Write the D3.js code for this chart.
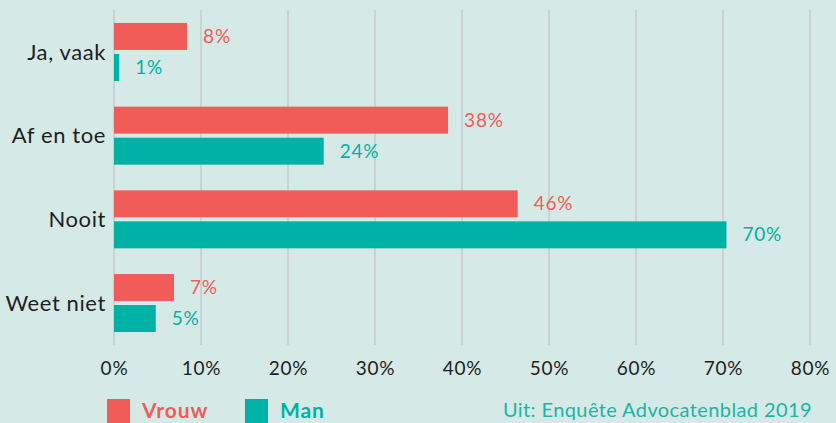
<!DOCTYPE html>
<html>
<head>
<meta charset="utf-8">
<script src="https://cdn.jsdelivr.net/npm/d3@7"></script>
<style>
  body { margin: 0; background: #d5eae6; }
  svg { display: block; font-family: Lato, "Open Sans", sans-serif; }
</style>
</head>
<body>
<div id="chart"></div>
<script>
// answers per category
const categories = ["Ja, vaak", "Af en toe", "Nooit", "Weet niet"];
const series = ["Vrouw", "Man"];
const vrouw = [8.4, 38.4, 46.4, 6.9];
const man = [0.6, 24.1, 70.4, 4.8];
const ticks = [0, 10, 20, 30, 40, 50, 60, 70, 80];
const source = "Uit: Enquête Advocatenblad 2019";

const colors = { Vrouw: "#f15c59", Man: "#00b2a5" };
const width = 836, height = 423;

const data = categories.map((c, i) => ({ cat: c, Vrouw: vrouw[i], Man: man[i] }));

const svg = d3.select("#chart").append("svg")
  .attr("width", width)
  .attr("height", height);

svg.append("rect").attr("width", width).attr("height", height).attr("fill", "#d5eae6");

const x = d3.scaleLinear().domain([0, 80]).range([114, 810]);

const y = d3.scaleBand()
  .domain(categories)
  .range([10, 345])
  .paddingInner(0.307)
  .paddingOuter(0.155);

const ySub = d3.scaleBand()
  .domain(series)
  .range([0, y.bandwidth()])
  .paddingInner(0.13);

// gridlines
svg.append("g")
  .selectAll("line")
  .data(ticks)
  .enter()
  .append("line")
  .attr("x1", d => x(d))
  .attr("x2", d => x(d))
  .attr("y1", 10)
  .attr("y2", 345)
  .attr("stroke", "#c5cdcb")
  .attr("stroke-width", 1.5);

// x axis labels
const xAxis = svg.append("g")
  .attr("transform", "translate(0, 358)")
  .call(d3.axisBottom(x).tickValues(ticks).tickSize(0).tickFormat(d => d + "%"));
xAxis.select(".domain").remove();
xAxis.selectAll("text")
  .attr("font-size", 19)
  .attr("letter-spacing", 0.8)
  .attr("font-family", "Lato, sans-serif")
  .attr("fill", "#1e1e1e");

// category labels
svg.append("g")
  .selectAll("text")
  .data(categories)
  .enter()
  .append("text")
  .attr("x", 106)
  .attr("y", d => y(d) + y.bandwidth() / 2)
  .attr("dy", "0.35em")
  .attr("text-anchor", "end")
  .attr("font-size", 22)
  .attr("letter-spacing", 0.6)
  .attr("fill", "#1e1e1e")
  .text(d => d);

// bars
const groups = svg.append("g")
  .selectAll("g")
  .data(data)
  .enter()
  .append("g")
  .attr("transform", d => `translate(0, ${y(d.cat)})`);

groups.selectAll("rect")
  .data(d => series.map(s => ({ s: s, v: d[s] })))
  .enter()
  .append("rect")
  .attr("x", x(0))
  .attr("y", d => ySub(d.s))
  .attr("height", ySub.bandwidth())
  .attr("width", d => x(d.v) - x(0))
  .attr("fill", d => colors[d.s]);

// value labels
groups.selectAll("text")
  .data(d => series.map(s => ({ s: s, v: d[s] })))
  .enter()
  .append("text")
  .attr("x", d => x(d.v) + 16)
  .attr("y", d => ySub(d.s) + ySub.bandwidth() / 2)
  .attr("dy", "0.35em")
  .attr("font-size", 19)
  .attr("letter-spacing", 0.8)
  .attr("fill", d => colors[d.s])
  .text(d => Math.round(d.v) + "%");

// legend
const legendX = [107, 245];
const legend = svg.append("g")
  .selectAll("g")
  .data(series)
  .enter()
  .append("g")
  .attr("transform", (d, i) => `translate(${legendX[i]}, 399)`);

legend.append("rect")
  .attr("width", 23)
  .attr("height", 24)
  .attr("fill", d => colors[d]);

legend.append("text")
  .attr("x", 35)
  .attr("y", 19)
  .attr("font-size", 21)
  .attr("letter-spacing", 0.9)
  .attr("font-weight", 700)
  .attr("fill", d => colors[d])
  .text(d => d);

// source
svg.append("text")
  .attr("x", 812)
  .attr("y", 417)
  .attr("text-anchor", "end")
  .attr("font-size", 20)
  .attr("letter-spacing", 0.4)
  .attr("fill", "#1fb3a6")
  .text(source);
</script>
</body>
</html>
